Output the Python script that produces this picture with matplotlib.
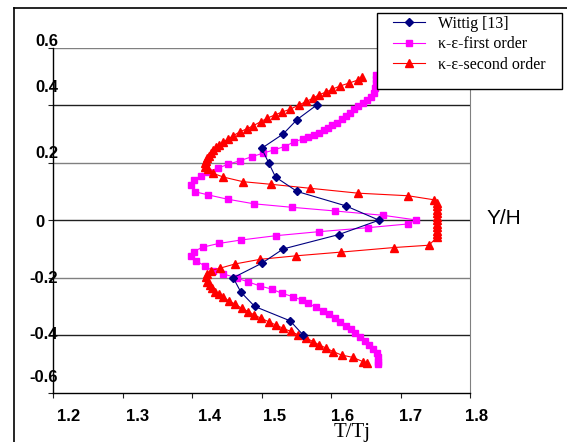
import matplotlib
matplotlib.use("Agg")
import matplotlib.pyplot as plt
from matplotlib.lines import Line2D
from matplotlib.patches import Rectangle

# Wittig [13] measurements
wittig_x = [1.579, 1.551, 1.531, 1.500, 1.510, 1.520, 1.551, 1.621, 1.669,
            1.611, 1.531, 1.500, 1.459, 1.470, 1.490, 1.541, 1.560]
wittig_y = [0.40, 0.35, 0.30, 0.25, 0.20, 0.15, 0.10, 0.05, 0.00,
            -0.05, -0.10, -0.15, -0.20, -0.25, -0.30, -0.35, -0.40]

# k-e first order
first_x = [1.665, 1.665, 1.664, 1.663, 1.662, 1.657, 1.651, 1.646, 1.639, 1.633,
           1.627, 1.622, 1.615, 1.609, 1.602, 1.596, 1.590, 1.583, 1.575, 1.567,
           1.559, 1.547, 1.533, 1.518, 1.502, 1.486, 1.469, 1.452, 1.437, 1.423,
           1.412, 1.402, 1.398, 1.404, 1.423, 1.451, 1.489, 1.543, 1.606, 1.675,
           1.722, 1.711, 1.653, 1.582, 1.520, 1.470, 1.438, 1.415, 1.402, 1.398,
           1.406, 1.418, 1.430, 1.445, 1.464, 1.481, 1.498, 1.515, 1.529, 1.545,
           1.558, 1.567, 1.578, 1.588, 1.597, 1.606, 1.613, 1.621, 1.628, 1.635,
           1.642, 1.649, 1.655, 1.661, 1.666, 1.668, 1.668, 1.667]
first_y = [0.505, 0.492, 0.478, 0.460, 0.442, 0.430, 0.418, 0.409, 0.398, 0.386,
           0.374, 0.362, 0.351, 0.339, 0.331, 0.322, 0.314, 0.305, 0.296, 0.289,
           0.282, 0.273, 0.256, 0.245, 0.233, 0.221, 0.207, 0.195, 0.181, 0.169,
           0.154, 0.140, 0.123, 0.099, 0.088, 0.073, 0.057, 0.045, 0.032, 0.017,
           0.001, -0.013, -0.026, -0.040, -0.054, -0.069, -0.081, -0.094, -0.109, -0.124,
           -0.142, -0.159, -0.176, -0.187, -0.201, -0.215, -0.229, -0.240, -0.254, -0.266,
           -0.278, -0.289, -0.303, -0.315, -0.327, -0.341, -0.353, -0.367, -0.379, -0.393,
           -0.405, -0.419, -0.434, -0.449, -0.463, -0.477, -0.492, -0.500]

# k-e second order
second_x = [1.644, 1.639, 1.626, 1.613, 1.602, 1.592, 1.582, 1.574, 1.564, 1.554,
            1.541, 1.529, 1.519, 1.508, 1.499, 1.488, 1.479, 1.469, 1.459, 1.452,
            1.445, 1.439, 1.434, 1.430, 1.427, 1.424, 1.422, 1.420, 1.419, 1.419,
            1.423, 1.430, 1.445, 1.473, 1.513, 1.570, 1.639, 1.711, 1.748,
            1.752, 1.752, 1.752, 1.752, 1.752, 1.752, 1.752, 1.752, 1.752, 1.752, 1.752,
            1.741, 1.691, 1.614, 1.549, 1.498, 1.462, 1.440, 1.427, 1.421, 1.420,
            1.422, 1.425, 1.428, 1.433, 1.439, 1.445, 1.453, 1.462, 1.471, 1.481,
            1.489, 1.499, 1.510, 1.521, 1.531, 1.542, 1.553, 1.564, 1.574, 1.583,
            1.593, 1.603, 1.615, 1.631, 1.646, 1.652]
second_y = [0.497, 0.488, 0.477, 0.467, 0.456, 0.445, 0.436, 0.424, 0.413, 0.401,
            0.386, 0.376, 0.366, 0.355, 0.343, 0.329, 0.318, 0.308, 0.294, 0.283,
            0.273, 0.262, 0.253, 0.245, 0.235, 0.225, 0.216, 0.206, 0.198, 0.186,
            0.177, 0.163, 0.150, 0.134, 0.125, 0.111, 0.094, 0.085, 0.071,
            0.060, 0.048, 0.036, 0.024, 0.012, 0.000, -0.012, -0.024, -0.036, -0.048, -0.060,
            -0.087, -0.095, -0.111, -0.124, -0.136, -0.152, -0.167, -0.175, -0.187, -0.198,
            -0.214, -0.225, -0.237, -0.248, -0.257, -0.268, -0.281, -0.292, -0.306, -0.318,
            -0.329, -0.341, -0.353, -0.365, -0.376, -0.387, -0.399, -0.410, -0.422, -0.434,
            -0.445, -0.457, -0.469, -0.477, -0.492, -0.497]

x_ticks = [1.2, 1.3, 1.4, 1.5, 1.6, 1.7, 1.8]
x_tick_labels = ["1.2", "1.3", "1.4", "1.5", "1.6", "1.7", "1.8"]
y_ticks = [0.6, 0.4, 0.2, 0.0, -0.2, -0.4, -0.6]
y_tick_labels = ["0.6", "0.4", "0.2", "0", "-0.2", "-0.4", "-0.6"]

# where the (hand placed) tick labels sit in the original
x_label_pos = [1.2226, 1.322, 1.4257, 1.519, 1.6165, 1.7148, 1.8097]
y_label_pos = [0.6226, 0.4619, 0.2306, -0.0077, -0.2031, -0.3979, -0.5485]
y_label_right = [1.2072, 1.2072, 1.2072, 1.188, 1.2072, 1.2072, 1.2072]
grid_colors = ["#808080", "#202020", "#808080", "#202020", "#808080", "#202020"]

fig = plt.figure(figsize=(5.67, 4.42), dpi=100)
ax = fig.add_axes([53.3 / 567, 1 - 392.7 / 442, 416.7 / 567, 345 / 442])

for yv, c in zip(y_ticks[:-1], grid_colors):
    ax.axhline(yv, color=c, lw=1.0, zorder=0)

ax.plot(wittig_x, wittig_y, color="#000080", lw=0.8, marker="D", ms=4,
        label="Wittig [13]", zorder=4)
ax.plot(first_x, first_y, color="#ff00ff", lw=0.8, marker="s", ms=5,
        label="κ-ε-first order", zorder=2)
ax.plot(second_x, second_y, color="#ff0000", lw=0.8, marker="^", ms=6,
        label="κ-ε-second order", zorder=3)

ax.set_xlim(1.2, 1.8)
ax.set_ylim(-0.6, 0.6)
ax.set_xticks(x_ticks)
ax.set_yticks(y_ticks)
ax.set_xticklabels([])
ax.set_yticklabels([])
ax.tick_params(direction="out", length=3.6, width=0.8, color="#202020")
ax.spines["top"].set_visible(False)
ax.spines["right"].set_color("#808080")
ax.spines["left"].set_color("black")
ax.spines["bottom"].set_color("black")
ax.spines["left"].set_linewidth(1.0)
ax.spines["bottom"].set_linewidth(1.0)

for lab, xp in zip(x_tick_labels, x_label_pos):
    ax.text(xp, -0.683, lab, ha="center", va="center", fontsize=12,
            fontweight="bold", family="Liberation Sans", clip_on=False)
for lab, yp, xr in zip(y_tick_labels, y_label_pos, y_label_right):
    ax.text(xr, yp, lab, ha="right", va="center", fontsize=12,
            fontweight="bold", family="Liberation Sans", clip_on=False)

ax.text(1.849, 0.006, "Y/H", ha="center", va="center", fontsize=15,
        family="Liberation Sans", clip_on=False)
ax.text(1.630, -0.7527, "T/Tj", ha="center", va="baseline", fontsize=15,
        family="Liberation Serif", clip_on=False)

# legend box drawn by hand (wide side padding, tight top/bottom as in the original)
box = Rectangle((377.3 / 567, 1 - 89.3 / 442), 185 / 567, 76 / 442,
                transform=fig.transFigure, facecolor="white", edgecolor="black",
                lw=1.0, clip_on=False, zorder=9)
ax.add_patch(box)
leg = ax.legend(loc="upper left", bbox_to_anchor=(393.3 / 567, 1 - 15.5 / 442),
                bbox_transform=fig.transFigure, borderaxespad=0,
                prop={"family": "Liberation Serif", "size": 11.5},
                frameon=False, handlelength=2.0, handletextpad=0.8,
                borderpad=0, labelspacing=0.3)
leg.set_zorder(10)

# outer frame of the original figure
fig.add_artist(Line2D([13.5 / 567, 13.5 / 567], [0, 1 - 8 / 442],
                      transform=fig.transFigure, color="black", lw=1.2))
fig.add_artist(Line2D([13.5 / 567, 1], [1 - 8 / 442, 1 - 8 / 442],
                      transform=fig.transFigure, color="black", lw=1.2))

fig.savefig("out.png", dpi=100)
